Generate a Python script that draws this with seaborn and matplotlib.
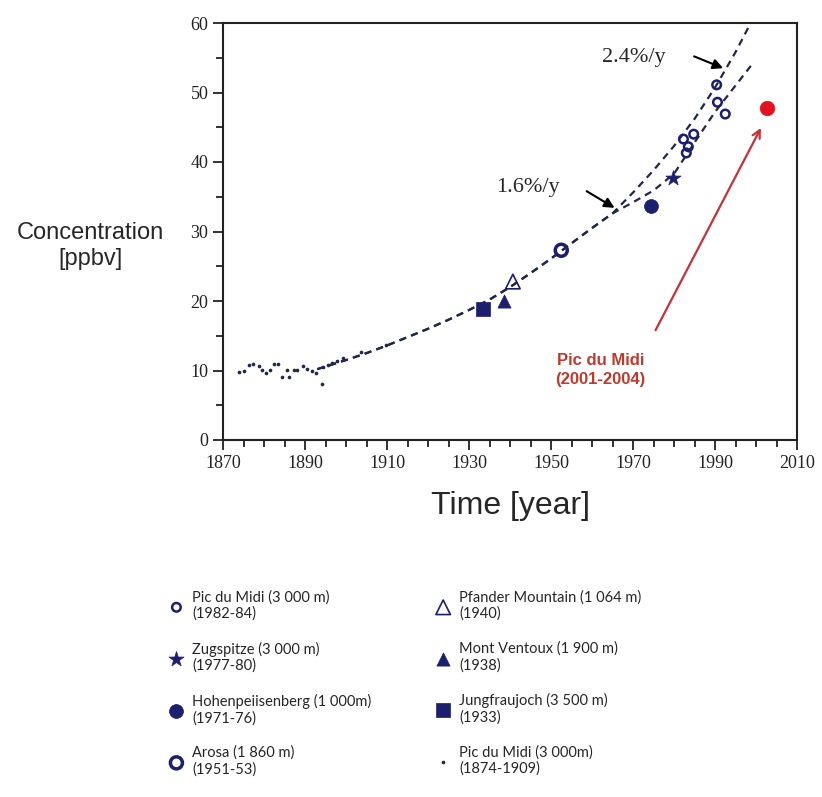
import seaborn as sns
import matplotlib.pyplot as plt
from matplotlib.ticker import MultipleLocator

# early Pic du Midi record (1874-1909)
early_years = [1873.8, 1875.2, 1876.4, 1877.4, 1878.7, 1879.5, 1880.5, 1881.5, 1882.4, 1883.4,
               1884.4, 1885.6, 1886.2, 1887.3, 1888.1, 1889.5, 1890.6, 1891.6, 1892.8, 1894.1,
               1894.3, 1895.5, 1896.5, 1897.7, 1899.2, 1903.7, 1909.8]
early_conc = [9.8, 10.0, 10.8, 10.9, 10.6, 10.1, 9.6, 10.1, 10.9, 10.9,
              9.1, 10.1, 9.0, 10.1, 10.1, 10.6, 10.2, 10.0, 9.6, 8.1,
              10.5, 10.8, 11.1, 11.4, 11.8, 12.7, 13.7]

# Pic du Midi (1982-84) small open circles
pdm_years = [1982.3, 1983.0, 1983.5, 1984.8, 1990.4, 1990.6, 1992.5]
pdm_conc = [43.3, 41.3, 42.2, 44.0, 51.1, 48.6, 46.9]

# single-site measurements
zug_year, zug_conc = [1979.8], [37.7]
hohen_year, hohen_conc = [1974.3], [33.7]
arosa_year, arosa_conc = [1952.5], [27.3]
pfander_year, pfander_conc = [1940.7], [22.8]
ventoux_year, ventoux_conc = [1938.5], [20.0]
jungfrau_year, jungfrau_conc = [1933.5], [18.9]
recent_year, recent_conc = [2002.8], [47.7]

# dashed trend curves
trend_years = [1893, 1900, 1905, 1910, 1915, 1920, 1925, 1930, 1935, 1940, 1945, 1950, 1955, 1960, 1965]
trend_conc = [10.2, 11.5, 12.5, 13.6, 14.8, 16.0, 17.3, 18.7, 20.2, 22.0, 24.0, 26.1, 28.3, 30.5, 32.6]
low_years = [1970, 1975, 1980, 1985, 1990, 1995, 1999.5]
low_conc = [34.2, 35.9, 38.3, 42.8, 47.2, 51.0, 54.4]
high_years = [1970, 1975, 1980, 1985, 1990, 1995, 1998.7]
high_conc = [35.6, 38.8, 42.3, 46.2, 50.7, 55.8, 60.0]

labels = {
    'pdm': 'Pic du Midi (3 000 m)\n(1982-84)',
    'zug': 'Zugspitze (3 000 m)\n(1977-80)',
    'hohen': 'Hohenpeiisenberg (1 000m)\n(1971-76)',
    'arosa': 'Arosa (1 860 m)\n(1951-53)',
    'pfander': 'Pfander Mountain (1 064 m)\n(1940)',
    'ventoux': 'Mont Ventoux (1 900 m)\n(1938)',
    'jungfrau': 'Jungfraujoch (3 500 m)\n(1933)',
    'early': 'Pic du Midi (3 000m)\n(1874-1909)',
}

navy = '#1b1f6e'
red = '#e3121c'

sns.set_style('ticks')
plt.rcParams['font.family'] = ['Liberation Serif', 'DejaVu Serif']
plt.rcParams['lines.dashed_pattern'] = [3.2, 2.4]

fig = plt.figure(figsize=(8.22, 7.97), dpi=100)
ax = fig.add_axes([223 / 822, 1 - 440 / 797, 574 / 822, 417 / 797])

# trend lines
for xs, ys in [(trend_years + low_years, trend_conc + low_conc),
               (trend_years + high_years, trend_conc + high_conc)]:
    sns.lineplot(x=xs, y=ys, ax=ax, color='#22264a', linestyle='--', linewidth=1.6, zorder=2)

# markers
sns.scatterplot(x=early_years, y=early_conc, ax=ax, marker='o', s=7, color='#22264a',
                edgecolor='#22264a', linewidth=0, label=labels['early'], zorder=3)
sns.scatterplot(x=jungfrau_year, y=jungfrau_conc, ax=ax, marker='s', s=90, color=navy,
                edgecolor=navy, linewidth=0.5, label=labels['jungfrau'], zorder=3)
sns.scatterplot(x=ventoux_year, y=ventoux_conc, ax=ax, marker='^', s=90, color=navy,
                edgecolor=navy, linewidth=0.5, label=labels['ventoux'], zorder=3)
sns.scatterplot(x=pfander_year, y=pfander_conc, ax=ax, marker='^', s=110, color=navy,
                edgecolor=navy, linewidth=1.2, label=labels['pfander'], zorder=3)
sns.scatterplot(x=arosa_year, y=arosa_conc, ax=ax, marker='o', s=75, color=navy,
                edgecolor=navy, linewidth=2.5, label=labels['arosa'], zorder=3)
sns.scatterplot(x=hohen_year, y=hohen_conc, ax=ax, marker='o', s=100, color=navy,
                edgecolor=navy, linewidth=0.5, label=labels['hohen'], zorder=3)
sns.scatterplot(x=zug_year, y=zug_conc, ax=ax, marker='*', s=130, color=navy,
                edgecolor=navy, linewidth=0.5, label=labels['zug'], zorder=3)
sns.scatterplot(x=pdm_years, y=pdm_conc, ax=ax, marker='o', s=38, color=navy,
                edgecolor=navy, linewidth=1.8, label=labels['pdm'], zorder=3)
sns.scatterplot(x=recent_year, y=recent_conc, ax=ax, marker='o', s=110, color=red,
                edgecolor=red, linewidth=0.5, zorder=3)

handles, names = ax.get_legend_handles_labels()
by_name = dict(zip(names, handles))
for key in ['pfander', 'arosa', 'pdm']:
    by_name[labels[key]].set_facecolor('none')
if ax.get_legend() is not None:
    ax.get_legend().remove()

# annotations
black_arrow = dict(arrowstyle='-|>', color='black', lw=1.5, mutation_scale=15, shrinkA=0, shrinkB=0)
ax.text(1944.4, 36.3, '1.6%/y', fontsize=16, ha='center', va='center')
ax.annotate('', xy=(1965.5, 33.4), xytext=(1958.7, 35.8), arrowprops=black_arrow)
ax.text(1970.1, 55.0, '2.4%/y', fontsize=16, ha='center', va='center')
ax.annotate('', xy=(1992.0, 53.5), xytext=(1984.9, 55.2), arrowprops=black_arrow)
ax.annotate('', xy=(2001.2, 44.9), xytext=(1975.5, 15.8),
            arrowprops=dict(arrowstyle='->', color='#c8303a', lw=1.6, mutation_scale=14,
                            shrinkA=0, shrinkB=0))
ax.text(1962, 10.1, 'Pic du Midi\n(2001-2004)', color='#c0392b', fontsize=12,
        fontweight='bold', ha='center', va='center', family='Liberation Sans',
        linespacing=1.35)

ax.set_xlim(1870, 2010)
ax.set_ylim(0, 60)
ax.set_xticks(range(1870, 2011, 20))
ax.xaxis.set_minor_locator(MultipleLocator(5))
ax.yaxis.set_major_locator(MultipleLocator(10))
ax.yaxis.set_minor_locator(MultipleLocator(5))
ax.tick_params(which='both', direction='out', width=1.3, colors='#222222', labelsize=13)
ax.tick_params(which='major', length=7)
ax.tick_params(which='minor', length=5)
for sp in ax.spines.values():
    sp.set_linewidth(1.5)
    sp.set_color('#222222')

ax.set_xlabel('Time [year]', fontsize=23, family='Liberation Sans', labelpad=14)
ax.set_ylabel('')
fig.text(90 / 822, 1 - 246 / 797, 'Concentration\n[ppbv]', fontsize=17,
         family='Liberation Sans', ha='center', va='center', linespacing=1.2)

order = ['pdm', 'zug', 'hohen', 'arosa', 'pfander', 'ventoux', 'jungfrau', 'early']
fig.legend([by_name[labels[k]] for k in order], [labels[k] for k in order],
           loc='upper left', bbox_to_anchor=(156 / 822, 1 - 577 / 797), ncol=2,
           frameon=False, scatterpoints=1, handlelength=1.0, handletextpad=0.6,
           columnspacing=4.4, labelspacing=1.4, prop={'family': 'Lato', 'size': 10.5})

fig.savefig('out.png', dpi=100)
